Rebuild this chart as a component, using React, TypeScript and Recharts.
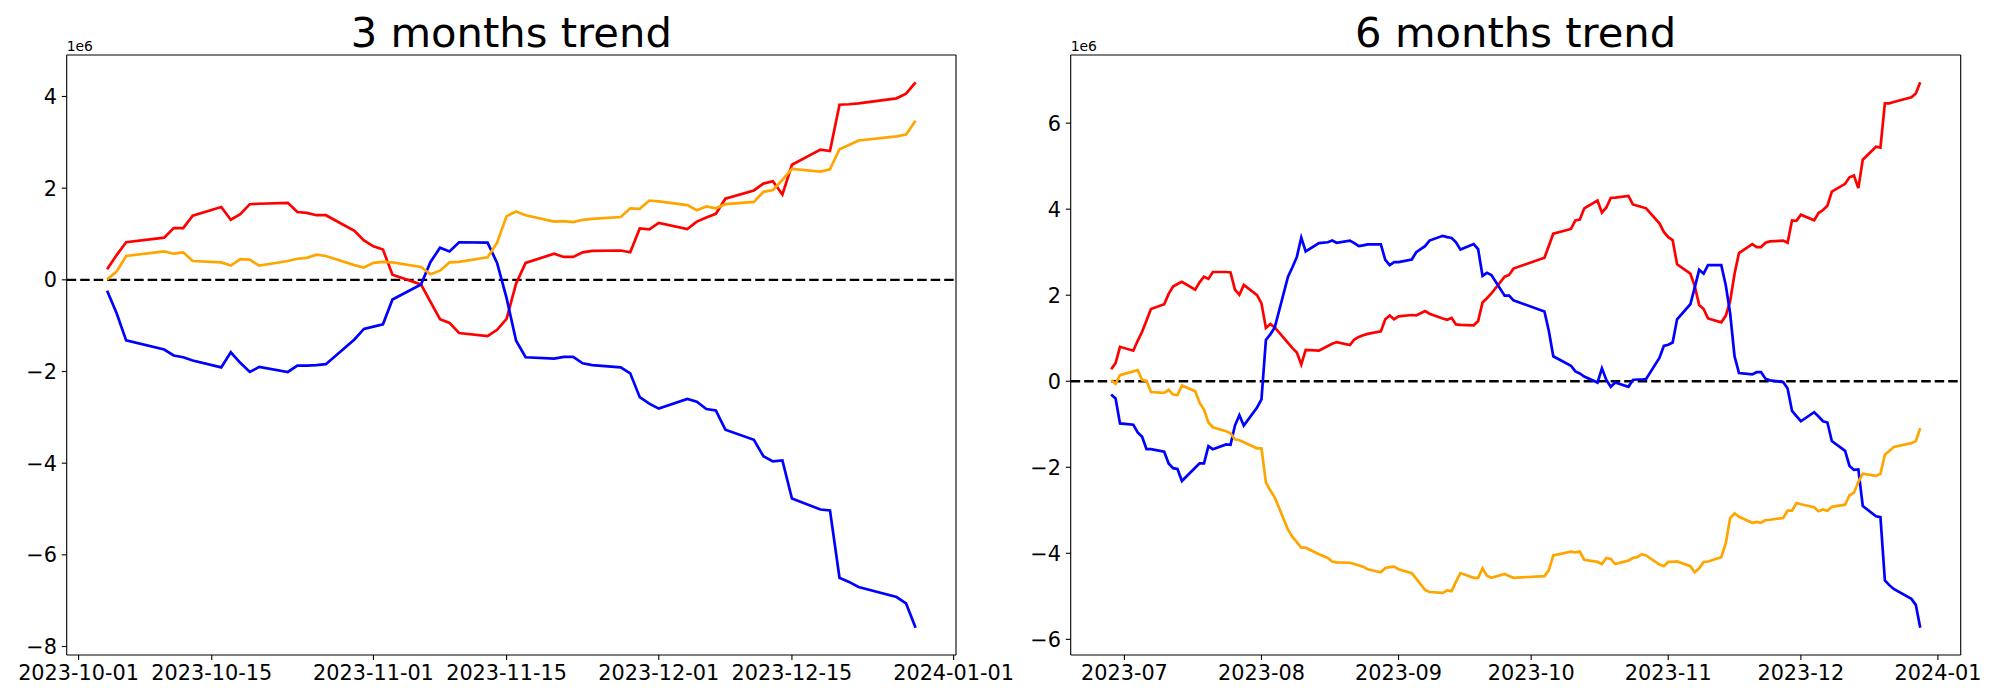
import { LineChart, Line, XAxis, YAxis, ReferenceLine } from 'recharts'

// ---- 3 months panel ----
const leftDates = [
  '2023-10-04', '2023-10-05', '2023-10-06', '2023-10-10', '2023-10-11', '2023-10-12', '2023-10-13',
  '2023-10-16', '2023-10-17', '2023-10-18', '2023-10-19', '2023-10-20', '2023-10-23', '2023-10-24',
  '2023-10-25', '2023-10-26', '2023-10-27', '2023-10-30', '2023-10-31',
  '2023-11-01', '2023-11-02', '2023-11-03', '2023-11-06', '2023-11-07', '2023-11-08', '2023-11-09',
  '2023-11-10', '2023-11-13', '2023-11-14', '2023-11-15', '2023-11-16', '2023-11-17', '2023-11-20',
  '2023-11-21', '2023-11-22', '2023-11-23', '2023-11-24', '2023-11-27', '2023-11-28', '2023-11-29',
  '2023-11-30',
  '2023-12-01', '2023-12-04', '2023-12-05', '2023-12-06', '2023-12-07', '2023-12-08', '2023-12-11',
  '2023-12-12', '2023-12-13', '2023-12-14', '2023-12-15', '2023-12-18', '2023-12-19', '2023-12-20',
  '2023-12-21', '2023-12-22', '2023-12-26', '2023-12-27', '2023-12-28',
]
// values in millions
const leftRed = [
  0.23, 0.54, 0.82, 0.92, 1.13, 1.13, 1.4, 1.59, 1.31, 1.43, 1.65, 1.66, 1.68, 1.48, 1.46, 1.41, 1.41, 1.07, 0.86,
  0.73, 0.66, 0.11, -0.1, -0.48, -0.86, -0.94, -1.16, -1.23, -1.09, -0.85, -0.08, 0.37, 0.57, 0.5, 0.5, 0.6, 0.63,
  0.64, 0.6, 1.12, 1.1,
  1.24, 1.11, 1.27, 1.36, 1.44, 1.77, 1.95, 2.1, 2.15, 1.86, 2.51, 2.84, 2.81, 3.82, 3.83, 3.85, 3.96, 4.06, 4.31,
]
const leftBlue = [
  -0.24, -0.73, -1.32, -1.52, -1.65, -1.69, -1.76, -1.91, -1.58, -1.81, -2.01, -1.9, -2.01, -1.87, -1.87, -1.86,
  -1.84, -1.3, -1.07,
  -1.02, -0.97, -0.43, -0.1, 0.39, 0.7, 0.62, 0.82, 0.81, 0.37, -0.4, -1.33, -1.69, -1.72, -1.68, -1.68, -1.82,
  -1.86, -1.91, -2.04, -2.56, -2.7,
  -2.81, -2.6, -2.66, -2.82, -2.85, -3.27, -3.49, -3.85, -3.96, -3.94, -4.77, -5.01, -5.03, -6.5, -6.59, -6.7,
  -6.92, -7.06, -7.59,
]
const leftOrange = [
  0.01, 0.18, 0.52, 0.62, 0.57, 0.6, 0.41, 0.38, 0.31, 0.45, 0.44, 0.31, 0.41, 0.46, 0.48, 0.55, 0.52, 0.32, 0.27,
  0.37, 0.39, 0.38, 0.28, 0.12, 0.2, 0.38, 0.39, 0.49, 0.81, 1.39, 1.49, 1.41, 1.27, 1.28, 1.26, 1.31, 1.33, 1.37,
  1.56, 1.55, 1.73,
  1.71, 1.63, 1.52, 1.6, 1.56, 1.65, 1.7, 1.92, 1.96, 2.18, 2.42, 2.36, 2.41, 2.85, 2.94, 3.04, 3.13, 3.17, 3.47,
]
const leftTickDates = ['2023-10-01', '2023-10-15', '2023-11-01', '2023-11-15', '2023-12-01', '2023-12-15', '2024-01-01']
const leftTickLabels = ['2023-10-01', '2023-10-15', '2023-11-01', '2023-11-15', '2023-12-01', '2023-12-15', '2024-01-01']
const leftYTicks = [-8, -6, -4, -2, 0, 2, 4]

// ---- 6 months panel ----
const rightDates = [
  '2023-06-28', '2023-06-29', '2023-06-30',
  '2023-07-03', '2023-07-04', '2023-07-05', '2023-07-06', '2023-07-07', '2023-07-10', '2023-07-11', '2023-07-12',
  '2023-07-13', '2023-07-14', '2023-07-17', '2023-07-18', '2023-07-19', '2023-07-20', '2023-07-21', '2023-07-24',
  '2023-07-25', '2023-07-26', '2023-07-27', '2023-07-28', '2023-07-31',
  '2023-08-01', '2023-08-02', '2023-08-03', '2023-08-04', '2023-08-07', '2023-08-08', '2023-08-09', '2023-08-10',
  '2023-08-11', '2023-08-14', '2023-08-16', '2023-08-17', '2023-08-18', '2023-08-21', '2023-08-22', '2023-08-23',
  '2023-08-24', '2023-08-25', '2023-08-28', '2023-08-29', '2023-08-30', '2023-08-31',
  '2023-09-01', '2023-09-04', '2023-09-05', '2023-09-06', '2023-09-07', '2023-09-08', '2023-09-11', '2023-09-12',
  '2023-09-13', '2023-09-14', '2023-09-15', '2023-09-18', '2023-09-19', '2023-09-20', '2023-09-21', '2023-09-22',
  '2023-09-25', '2023-09-26', '2023-09-27',
  ...leftDates,
]
const rightRed = [
  0.28, 0.42, 0.8,
  0.71, 0.94, 1.15, 1.41, 1.68, 1.79, 2.03, 2.2, 2.26, 2.31, 2.13, 2.3, 2.43, 2.38, 2.54, 2.54, 2.53, 2.13, 2.01,
  2.24, 2.0,
  1.81, 1.24, 1.33, 1.25, 0.89, 0.77, 0.67, 0.39, 0.73, 0.71, 0.82, 0.87, 0.91, 0.84, 0.97, 1.03, 1.07, 1.1, 1.16,
  1.44, 1.53, 1.44,
  1.51, 1.54, 1.53, 1.58, 1.63, 1.57, 1.46, 1.43, 1.47, 1.32, 1.31, 1.3, 1.4, 1.83, 1.93, 2.04, 2.43, 2.47, 2.62,
  2.87, 3.15, 3.43, 3.54, 3.74, 3.76, 4.02, 4.2, 3.92, 4.04, 4.26, 4.27, 4.31, 4.11, 4.08, 4.05, 4.02, 3.67, 3.47,
  3.35, 3.28, 2.72, 2.5, 2.21, 1.77, 1.68, 1.46, 1.37, 1.52, 1.86, 2.5, 2.98, 3.19, 3.12, 3.12, 3.22, 3.25, 3.27,
  3.22, 3.74, 3.73,
  3.87, 3.74, 3.91, 3.98, 4.08, 4.41, 4.59, 4.74, 4.78, 4.49, 5.15, 5.45, 5.43, 6.46, 6.46, 6.49, 6.6, 6.69, 6.95,
]
const rightBlue = [
  -0.31, -0.4, -0.98,
  -1.01, -1.19, -1.29, -1.58, -1.58, -1.64, -1.91, -2.02, -2.04, -2.32, -2.01, -1.91, -1.91, -1.51, -1.58, -1.47,
  -1.48, -1.03, -0.79, -1.03, -0.61,
  -0.42, 0.96, 1.09, 1.25, 2.43, 2.65, 2.89, 3.34, 3.02, 3.21, 3.23, 3.27, 3.22, 3.27, 3.21, 3.14, 3.16, 3.18, 3.18,
  2.82, 2.7, 2.77,
  2.77, 2.83, 3.0, 3.07, 3.14, 3.27, 3.38, 3.35, 3.33, 3.23, 3.06, 3.19, 3.07, 2.45, 2.52, 2.47, 1.99, 1.99, 1.88,
  1.62, 1.17, 0.58, 0.36, 0.23, 0.18, 0.11, -0.03, 0.3, 0.03, -0.13, -0.03, -0.13, 0.03, 0.04, 0.04, 0.05, 0.54, 0.82,
  0.85, 0.9, 1.44, 1.79, 2.18, 2.59, 2.5, 2.7, 2.7, 2.24, 1.58, 0.58, 0.19, 0.16, 0.21, 0.21, 0.06, 0.02, -0.02,
  -0.17, -0.69, -0.81,
  -0.93, -0.72, -0.82, -0.93, -0.96, -1.39, -1.62, -1.97, -2.06, -2.05, -2.9, -3.14, -3.16, -4.63, -4.74, -4.83,
  -5.06, -5.2, -5.73,
]
const rightOrange = [
  0.03, -0.06, 0.14,
  0.23, 0.26, 0.03, 0.01, -0.25, -0.27, -0.2, -0.31, -0.32, -0.1, -0.23, -0.5, -0.66, -0.96, -1.07, -1.16, -1.21,
  -1.35, -1.37, -1.42, -1.56,
  -1.56, -2.35, -2.54, -2.7, -3.45, -3.62, -3.74, -3.87, -3.87, -4.02, -4.11, -4.19, -4.21, -4.22, -4.25, -4.28,
  -4.31, -4.37, -4.44, -4.34, -4.32, -4.31,
  -4.37, -4.46, -4.59, -4.72, -4.85, -4.9, -4.92, -4.86, -4.88, -4.66, -4.46, -4.57, -4.57, -4.35, -4.52, -4.57,
  -4.48, -4.53, -4.57,
  -4.53, -4.39, -4.05, -3.96, -3.98, -3.96, -4.15, -4.2, -4.25, -4.11, -4.13, -4.25, -4.17, -4.11, -4.09, -4.02,
  -4.05, -4.26, -4.3,
  -4.2, -4.2, -4.19, -4.3, -4.44, -4.35, -4.2, -4.19, -4.09, -3.77, -3.18, -3.07, -3.15, -3.29, -3.27, -3.29, -3.23,
  -3.22, -3.18, -3.01, -3.01, -2.83,
  -2.86, -2.93, -3.02, -2.98, -3.01, -2.92, -2.87, -2.65, -2.59, -2.34, -2.15, -2.2, -2.15, -1.71, -1.62, -1.53,
  -1.44, -1.39, -1.09,
]
const rightTickDates = ['2023-07-01', '2023-08-01', '2023-09-01', '2023-10-01', '2023-11-01', '2023-12-01', '2024-01-01']
const rightTickLabels = ['2023-07', '2023-08', '2023-09', '2023-10', '2023-11', '2023-12', '2024-01']
const rightYTicks = [-6, -4, -2, 0, 2, 4, 6]

const FONT = '"DejaVu Sans", sans-serif'
const TICK_FONT = 20.8
const day = (s: string) => Date.parse(s) / 86400000

function padded(values: number[]): [number, number] {
  const lo = Math.min(...values)
  const hi = Math.max(...values)
  const m = (hi - lo) * 0.05
  return [lo - m, hi + m]
}

const fmtY = (v: number) => {
  const n = Math.round(v / 1e6)
  return n < 0 ? `\u2212${-n}` : `${n}`
}

interface PanelProps {
  x: number
  width: number
  plotLeft: number
  plotRight: number
  dates: string[]
  red: number[]
  blue: number[]
  orange: number[]
  tickDates: string[]
  tickLabels: string[]
  yTicks: number[]
}

const PLOT_TOP = 55
const PLOT_BOTTOM = 655
const LW = 2.7

function TrendPanel(p: PanelProps) {
  const data = p.dates.map((d, i) => ({
    t: day(d),
    red: p.red[i] * 1e6,
    blue: p.blue[i] * 1e6,
    orange: p.orange[i] * 1e6,
  }))
  const xDomain = padded(data.map((d) => d.t))
  const yDomain = padded([...p.red, ...p.blue, ...p.orange].map((v) => v * 1e6))
  const xTicks = p.tickDates.map(day)
  const tickText = (v: number) => p.tickLabels[xTicks.indexOf(v)] ?? ''
  const tickStyle = { fill: '#000', fontSize: TICK_FONT, fontFamily: FONT }
  const line = { stroke: '#000', strokeWidth: 1.1 }

  return (
    <div style={{ position: 'absolute', left: p.x, top: 0 }}>
      <LineChart
        width={p.width}
        height={700}
        data={data}
        margin={{ top: PLOT_TOP, right: p.width - p.plotRight, bottom: 0, left: 0 }}
      >
        <XAxis
          dataKey="t"
          type="number"
          domain={xDomain}
          ticks={xTicks}
          interval={0}
          tickFormatter={tickText}
          tick={tickStyle}
          tickLine={line}
          axisLine={line}
          tickSize={4.9}
          tickMargin={5.8}
          height={700 - PLOT_BOTTOM}
        />
        <YAxis
          type="number"
          domain={yDomain}
          ticks={p.yTicks.map((v) => v * 1e6)}
          interval={0}
          tickFormatter={fmtY}
          tick={tickStyle}
          tickLine={line}
          axisLine={line}
          tickSize={4.9}
          tickMargin={4.9}
          width={p.plotLeft}
        />
        <ReferenceLine y={yDomain[1]} stroke="#000" strokeWidth={1.1} />
        <ReferenceLine x={xDomain[1]} stroke="#000" strokeWidth={1.1} />
        <ReferenceLine y={0} stroke="#000" strokeWidth={2.3} strokeDasharray="9.5 4" />
        <Line type="linear" dataKey="red" stroke="#ff0000" strokeWidth={LW} dot={false} isAnimationActive={false} />
        <Line type="linear" dataKey="blue" stroke="#0000ff" strokeWidth={LW} dot={false} isAnimationActive={false} />
        <Line type="linear" dataKey="orange" stroke="#ffa500" strokeWidth={LW} dot={false} isAnimationActive={false} />
      </LineChart>
    </div>
  )
}

export default function App() {
  return (
    <div style={{ position: 'absolute', left: 0, top: 0, width: 2000, height: 700, background: '#fff', fontFamily: FONT }}>
      <TrendPanel
        x={0}
        width={1040}
        plotLeft={66.7}
        plotRight={956}
        dates={leftDates}
        red={leftRed}
        blue={leftBlue}
        orange={leftOrange}
        tickDates={leftTickDates}
        tickLabels={leftTickLabels}
        yTicks={leftYTicks}
      />
      <TrendPanel
        x={1000}
        width={1000}
        plotLeft={70.7}
        plotRight={960.7}
        dates={rightDates}
        red={rightRed}
        blue={rightBlue}
        orange={rightOrange}
        tickDates={rightTickDates}
        tickLabels={rightTickLabels}
        yTicks={rightYTicks}
      />
      <svg width={2000} height={700} style={{ position: 'absolute', left: 0, top: 0, pointerEvents: 'none' }}>
        <text x={511.3} y={46.5} textAnchor="middle" fontSize={41.7} fontFamily={FONT} fill="#000">
          3 months trend
        </text>
        <text x={1515.7} y={46.5} textAnchor="middle" fontSize={41.7} fontFamily={FONT} fill="#000">
          6 months trend
        </text>
        <text x={66.7} y={51} fontSize={13.9} fontFamily={FONT} fill="#000">1e6</text>
        <text x={1070.7} y={51} fontSize={13.9} fontFamily={FONT} fill="#000">1e6</text>
      </svg>
    </div>
  )
}
